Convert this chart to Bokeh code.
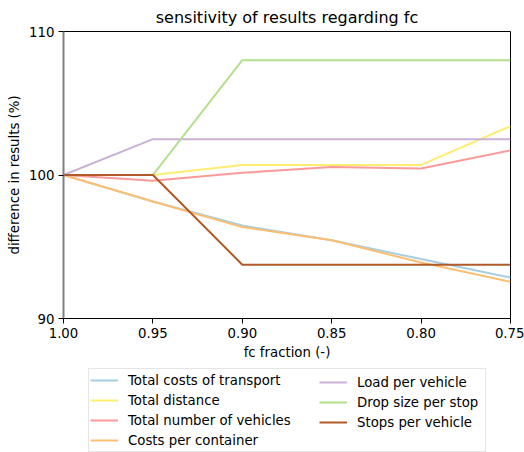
from bokeh.plotting import figure
from bokeh.layouts import column
from bokeh.models import Range1d, FixedTicker, Legend, LegendItem
from bokeh.embed import file_html
from bokeh.resources import INLINE

x_vals = [1.00, 0.95, 0.90, 0.85, 0.80, 0.75]
x_ticks = [1.00, 0.95, 0.90, 0.85, 0.80, 0.75]
y_ticks = [90, 100, 110]

total_costs = [100, 98.15, 96.48, 95.45, 94.14, 92.85]
total_distance = [100, 100, 100.7, 100.7, 100.7, 103.4]
total_vehicles = [100, 99.6, 100.15, 100.55, 100.46, 101.72]
costs_container = [100, 98.15, 96.37, 95.45, 93.9, 92.55]
load_vehicle = [100, 102.5, 102.5, 102.5, 102.5, 102.5]
drop_size = [100, 100, 108.0, 108.0, 108.0, 108.0]
stops_vehicle = [100, 100, 93.75, 93.75, 93.75, 93.75]

series = [
    ("Total costs of transport", total_costs, "#a6cee3"),
    ("Total distance", total_distance, "#ffed6f"),
    ("Total number of vehicles", total_vehicles, "#fb9a99"),
    ("Costs per container", costs_container, "#fdbf6f"),
    ("Load per vehicle", load_vehicle, "#cab2d6"),
    ("Drop size per stop", drop_size, "#b2df8a"),
    ("Stops per vehicle", stops_vehicle, "#b15928"),
]

FONT = "DejaVu Sans"
FS = "13.3px"
MAIN_H = 364
LEG_H = 452 - MAIN_H
FRAME_L = 63
FRAME_R = 14
ROW_H = 20
PAD = 1

p = figure(width=524, height=MAIN_H, output_backend="svg", toolbar_location=None,
           x_range=Range1d(1.0, 0.75), y_range=Range1d(90, 110),
           min_border_left=FRAME_L, min_border_right=FRAME_R, min_border_top=28,
           min_border_bottom=MAIN_H - 318)
p.title.text = "sensitivity of results regarding fc"
p.title.text_font = FONT
p.title.text_font_size = "16px"
p.title.text_font_style = "normal"
p.title.align = "center"
p.title.text_color = "black"

p.grid.visible = False
p.outline_line_color = "black"
p.outline_line_width = 1
p.background_fill_color = "white"
p.border_fill_color = "white"

for ax in (p.xaxis[0], p.yaxis[0]):
    ax.major_label_text_font = FONT
    ax.major_label_text_font_size = FS
    ax.major_label_text_color = "black"
    ax.axis_label_text_font = FONT
    ax.axis_label_text_font_size = FS
    ax.axis_label_text_font_style = "normal"
    ax.axis_label_text_color = "black"
    ax.minor_tick_line_color = None
    ax.major_tick_in = 0
    ax.major_tick_out = 5
    ax.major_tick_line_color = "black"

p.xaxis.ticker = FixedTicker(ticks=x_ticks)
p.xaxis.major_label_overrides = {t: f"{t:.2f}" for t in x_ticks}
p.xaxis.axis_label = "fc fraction (-)"
p.xaxis.axis_line_color = "black"
p.xaxis.major_label_standoff = 4
p.xaxis.axis_label_standoff = 4

p.yaxis.ticker = FixedTicker(ticks=y_ticks)
p.yaxis.axis_label = "difference in results (%)"
p.yaxis.axis_line_color = "#808080"
p.yaxis.axis_line_width = 2
p.yaxis.major_label_standoff = 4
p.yaxis.axis_label_standoff = 4

for name, vals, color in series:
    p.line(x_vals, vals, line_color=color, line_width=2)

# legend panel (separate figure below, lines drawn out of its visible range)
q = figure(width=524, height=LEG_H, output_backend="svg", toolbar_location=None,
           x_range=Range1d(1.0, 0.75), y_range=Range1d(0, 1),
           x_axis_location=None, y_axis_location=None,
           min_border_left=FRAME_L, min_border_right=FRAME_R, min_border_top=0,
           min_border_bottom=0)
q.grid.visible = False
q.outline_line_color = None
q.background_fill_color = "white"
q.border_fill_color = "white"

items = []
for name, vals, color in series:
    r = q.line(x_vals, vals, line_color=color, line_width=2)
    items.append(LegendItem(label=name, renderers=[r]))


def style(leg, border):
    leg.label_text_font = FONT
    leg.label_text_font_size = FS
    leg.label_text_color = "black"
    leg.glyph_width = 28
    leg.glyph_height = ROW_H
    leg.label_height = ROW_H
    leg.label_standoff = 10
    leg.spacing = 0
    leg.padding = PAD
    leg.margin = 0
    if border:
        leg.border_line_color = "#cccccc"
        leg.border_line_width = 1
        leg.background_fill_color = "white"
        leg.background_fill_alpha = 1.0
    else:
        leg.border_line_color = None
        leg.background_fill_alpha = 0.0


top_gap = 370 - MAIN_H
leg1 = Legend(items=items[:4],
              location=(88 - FRAME_L, LEG_H - top_gap - (4 * ROW_H + 2 * PAD)))
style(leg1, True)
leg1.label_width = 396 - 2 * PAD - 28 - 10
leg2 = Legend(items=items[4:],
              location=(320 - PAD - FRAME_L, LEG_H - top_gap - (3 * ROW_H + 2 * PAD)))
style(leg2, False)
q.add_layout(leg1, "center")
q.add_layout(leg2, "center")

layout = column(p, q, spacing=0)
open("out.html", "w").write(file_html(layout, INLINE))
